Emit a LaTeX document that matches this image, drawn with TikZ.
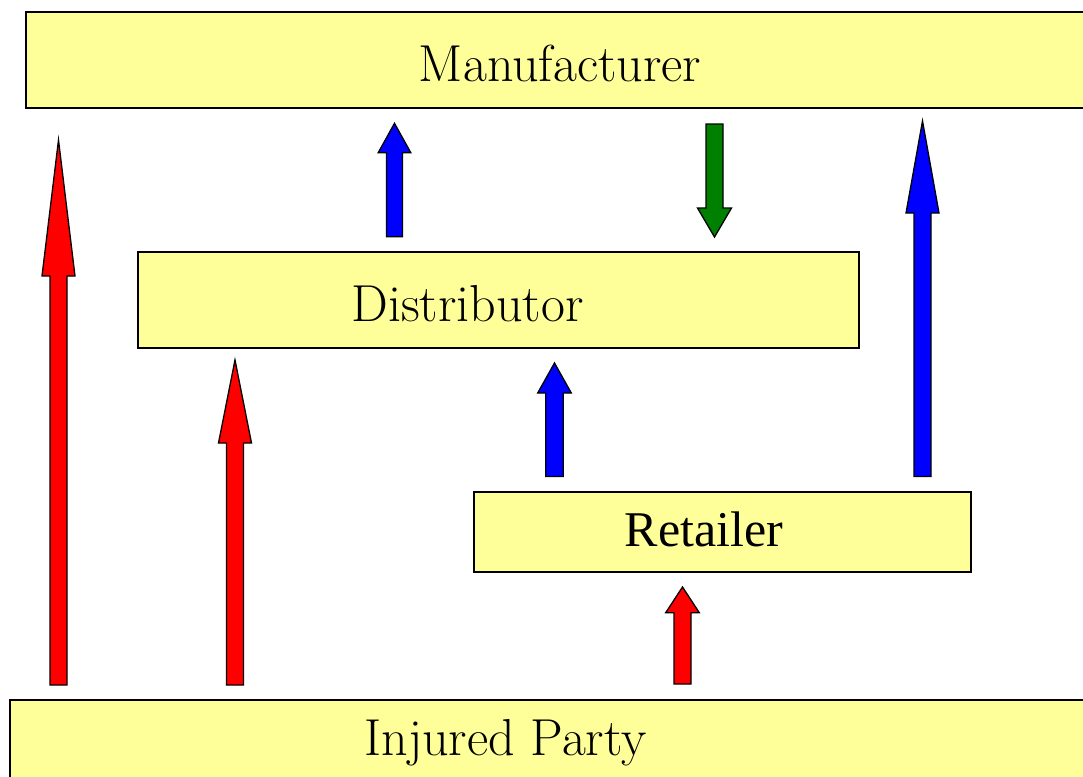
\documentclass[tikz,border=0pt]{standalone}
\usepackage{fontspec}
\newfontfamily\timesfont{Liberation Serif}
\definecolor{boxfill}{RGB}{255,255,153}
\definecolor{arrred}{RGB}{255,0,0}
\definecolor{arrblue}{RGB}{0,0,255}
\definecolor{arrgreen}{RGB}{0,128,0}
% block arrow: colour, centre x, tail y, tip y, shaft half width, head half width, head base y
\newcommand{\blockarrow}[7]{%
  \filldraw[fill=#1, arrowline]
    (#2-#5,#3) -- (#2-#5,#7) -- (#2-#6,#7) -- (#2,#4) -- (#2+#6,#7)
    -- (#2+#5,#7) -- (#2+#5,#3) -- cycle;}
\begin{document}
\begin{tikzpicture}[x=1pt,y=-1pt,
  boxstyle/.style={draw=black, fill=boxfill, line width=1.5pt, inner sep=0pt},
  arrowline/.style={draw=black, line width=1.3pt, line join=miter},
  label/.style={anchor=base, inner sep=0pt, font=\fontsize{52}{62}\selectfont}]
\useasboundingbox (0,0) rectangle (1083,776);
\begin{scope}
\clip (0,0) rectangle (1083,776);
% boxes
\draw[boxstyle] (26,12) rectangle (1100,108) coordinate (manuf);
\draw[boxstyle] (138,252) rectangle (859,348) coordinate (distr);
\draw[boxstyle] (474,492) rectangle (971,572) coordinate (retail);
\draw[boxstyle] (10,700) rectangle (1100,800) coordinate (injured);
\end{scope}
% labels
\node[label] (tmanuf) at (560,81.7) {Manufacturer};
\node[label] (tdistr) at (467.5,321.7) {Distributor};
\node[label, font=\fontsize{50}{60}\timesfont] (tretail) at (704,546) {Retailer};
\node[label] (tinjured) at (505.5,755) {Injured Party};
% arrows
\blockarrow{arrred}{58.5}{685}{140}{8.5}{16.5}{276}
\blockarrow{arrred}{235}{685}{360}{8.5}{16.5}{443}
\blockarrow{arrblue}{394.5}{236.7}{123.3}{8}{16.3}{152.7}
\blockarrow{arrblue}{554.5}{476.5}{363}{8.8}{16.8}{393}
\blockarrow{arrgreen}{714.5}{124}{237}{8.5}{17}{208}
\blockarrow{arrblue}{922.5}{476.5}{121}{8.5}{16.5}{213}
\blockarrow{arrred}{682.5}{684}{587}{8.5}{16.8}{612.7}
\end{tikzpicture}
\end{document}
